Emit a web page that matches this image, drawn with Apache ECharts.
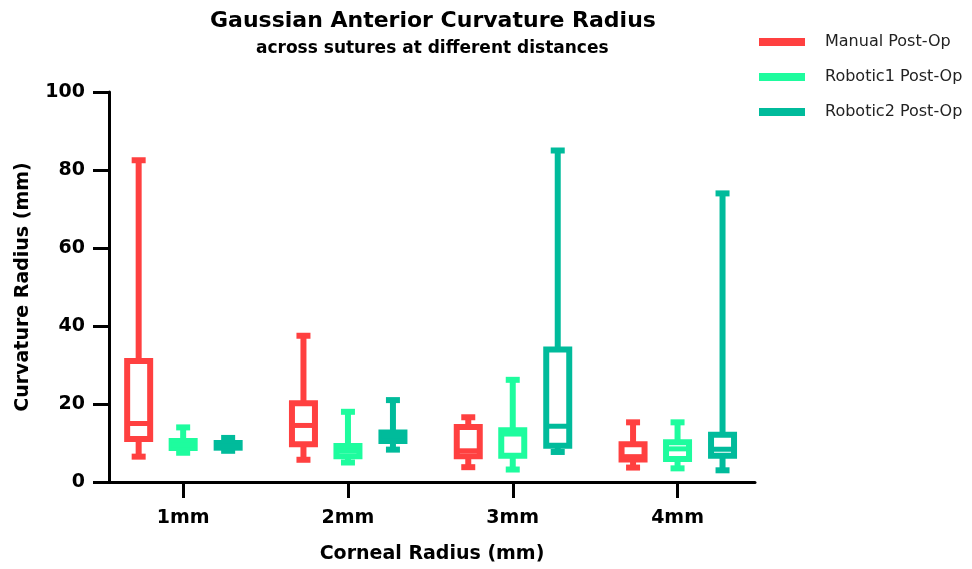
<!DOCTYPE html>
<html>
<head>
<meta charset="utf-8">
<script src="https://cdn.jsdelivr.net/npm/echarts@6/dist/echarts.min.js"></script>
<style>html,body{margin:0;padding:0;background:#fff}#c{width:972px;height:569px}</style>
</head>
<body>
<div id="c"></div>
<script>
// Data: [min, Q1, median, Q3, max] per category
const categories = ['1mm', '2mm', '3mm', '4mm'];
const seriesNames = ['Manual Post-Op', 'Robotic1 Post-Op', 'Robotic2 Post-Op'];
const manualPostOp = [[6.5, 11, 15, 31, 82.5], [5.7, 9.7, 14.5, 20.2, 37.5], [3.8, 6.6, 8, 14.1, 16.6], [3.7, 5.8, 6.5, 9.7, 15.3]];
const robotic1PostOp = [[7.5, 8.7, 9.5, 10.5, 14], [5, 6.6, 8, 9.2, 18], [3.2, 6.7, 12.3, 13.3, 26.2], [3.5, 5.9, 8.5, 10.2, 15.3]];
const robotic2PostOp = [[8, 8.8, 9.3, 10, 11.3], [8.3, 10.5, 11.8, 12.7, 21], [7.7, 9.3, 14.3, 34, 85], [3, 6.7, 8.4, 12.1, 74]];
const yTicks = [0, 20, 40, 60, 80, 100];

const colors = ['#FF4040', '#1EFC9E', '#00BB9B'];
const offsets = [-0.27, 0, 0.273];
const FONT = 'DejaVu Sans';

function makeRender(offsetFrac, color) {
  return function (params, api) {
    const x = api.value(0);
    const unit = api.size([1, 0])[0];
    const cx = api.coord([x, 0])[0] + offsetFrac * unit;
    const y = i => api.coord([x, api.value(i)])[1];
    const yMin = y(1), yQ1 = y(2), yMed = y(3), yQ3 = y(4), yMax = y(5);
    const bw = 23, cw = 14, lw = 6;
    const st = { stroke: color, lineWidth: lw, fill: null };
    return {
      type: 'group',
      children: [
        { type: 'line', shape: { x1: cx, y1: yMax, x2: cx, y2: yMin }, style: st },
        { type: 'line', shape: { x1: cx - cw / 2, y1: yMax, x2: cx + cw / 2, y2: yMax }, style: st },
        { type: 'line', shape: { x1: cx - cw / 2, y1: yMin, x2: cx + cw / 2, y2: yMin }, style: st },
        { type: 'rect', shape: { x: cx - bw / 2, y: yQ3, width: bw, height: yQ1 - yQ3 }, style: { fill: '#fff', stroke: color, lineWidth: lw } },
        { type: 'line', shape: { x1: cx - bw / 2, y1: yMed, x2: cx + bw / 2, y2: yMed }, style: { stroke: color, lineWidth: 5 } }
      ]
    };
  };
}

const allData = [manualPostOp, robotic1PostOp, robotic2PostOp];
const series = allData.map((arr, k) => ({
  name: seriesNames[k],
  type: 'custom',
  renderItem: makeRender(offsets[k], colors[k]),
  itemStyle: { color: colors[k] },
  encode: { x: 0, y: [1, 2, 3, 4, 5] },
  data: categories.map((c, i) => [i + 1].concat(arr[i]))
}));

const chart = echarts.init(document.getElementById('c'), null, { renderer: 'canvas' });
chart.setOption({
  animation: false,
  backgroundColor: '#fff',
  title: [
    { text: 'Gaussian Anterior Curvature Radius', left: 205, top: 5,
      textStyle: { fontFamily: FONT, fontSize: 22, fontWeight: 'bold', color: '#000' } },
    { text: 'across sutures at different distances', left: 251, top: 35,
      textStyle: { fontFamily: FONT, fontSize: 17, fontWeight: 'bold', color: '#000' } }
  ],
  legend: {
    orient: 'vertical', left: 754, top: 29,
    itemWidth: 46, itemHeight: 8, itemGap: 19, icon: 'rect',
    textStyle: { fontFamily: FONT, fontSize: 16, color: '#222', padding: [0, 0, 0, 15] },
    data: seriesNames
  },
  grid: { left: 109, right: 217, top: 92, bottom: 86 },
  xAxis: {
    type: 'value', min: 0.55, max: 4.47,
    name: 'Corneal Radius (mm)', nameLocation: 'middle', nameGap: 63,
    nameTextStyle: { fontFamily: FONT, fontSize: 19, fontWeight: 'bold', color: '#000' },
    axisLine: { show: true, onZero: false, lineStyle: { color: '#000', width: 3 } },
    axisTick: { show: true, length: 16, lineStyle: { color: '#000', width: 3 }, customValues: [1, 2, 3, 4] },
    axisLabel: { margin: 27, fontFamily: FONT, fontSize: 19, fontWeight: 'bold', color: '#000',
      customValues: [1, 2, 3, 4], formatter: v => categories[Math.round(v) - 1] || '' },
    splitLine: { show: false }
  },
  yAxis: {
    type: 'value', min: 0, max: 100, interval: 20,
    name: 'Curvature Radius (mm)', nameLocation: 'middle', nameGap: 76,
    nameTextStyle: { fontFamily: FONT, fontSize: 19, fontWeight: 'bold', color: '#000' },
    axisLine: { show: true, lineStyle: { color: '#000', width: 3 } },
    axisTick: { show: true, length: 16, lineStyle: { color: '#000', width: 3 } },
    axisLabel: { margin: 24, fontFamily: FONT, fontSize: 19, fontWeight: 'bold', color: '#000',
      formatter: v => (yTicks.indexOf(v) >= 0 ? String(v) : '') },
    splitLine: { show: false }
  },
  series: series
});
</script>
</body>
</html>
